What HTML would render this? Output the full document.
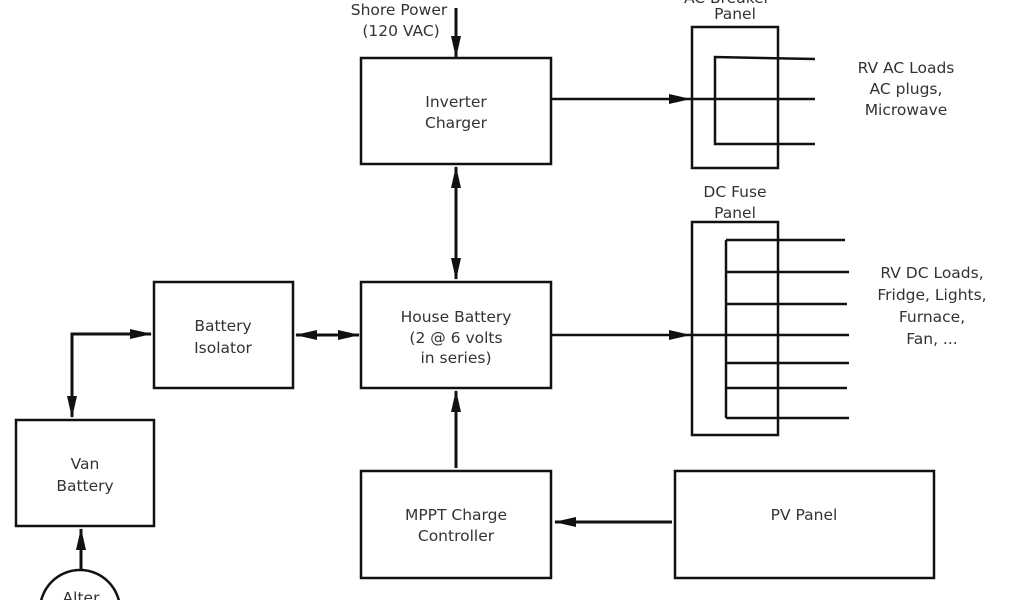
<!DOCTYPE html>
<html><head><style>
html,body{margin:0;padding:0;background:#fff;width:1024px;height:600px;overflow:hidden}
svg{display:block}
text{font-family:"DejaVu Sans","Liberation Sans",sans-serif;font-size:15.5px;fill:#333}
</style></head><body>
<svg width="1024" height="600" viewBox="0 0 1024 600" xmlns="http://www.w3.org/2000/svg">
<defs>
<marker id="as" markerWidth="22" markerHeight="12" refX="21" refY="6" orient="auto-start-reverse" markerUnits="userSpaceOnUse"><path d="M0,1 L22,6 L0,11 z" fill="#111"/></marker>
</defs>
<g fill="none" stroke="#111" stroke-width="2.5">
<rect x="361" y="58" width="190" height="106"/>
<rect x="361" y="282" width="190" height="106"/>
<rect x="361" y="471" width="190" height="107"/>
<rect x="675" y="471" width="259" height="107"/>
<rect x="154" y="282" width="139" height="106"/>
<rect x="16" y="420" width="138" height="106"/>
<path d="M40,610 A40,40 0 0 1 120,610"/>
<rect x="692" y="27" width="86" height="141"/>
<path d="M815,59 L715,57 L715,144 L815,144"/>
<line x1="551" y1="99" x2="815" y2="99"/>
<rect x="692" y="222" width="86" height="213"/>
<line x1="726" y1="240" x2="726" y2="418"/>
<line x1="726" y1="240" x2="845" y2="240"/>
<line x1="726" y1="272" x2="849" y2="272"/>
<line x1="726" y1="304" x2="847" y2="304"/>
<line x1="551" y1="335" x2="849" y2="335"/>
<line x1="726" y1="363" x2="849" y2="363"/>
<line x1="726" y1="388" x2="847" y2="388"/>
<line x1="726" y1="418" x2="849" y2="418"/>
</g>
<g stroke="#111" stroke-width="3" fill="none">
<line x1="456" y1="8" x2="456" y2="57" marker-end="url(#as)"/>
<line x1="456" y1="167" x2="456" y2="279" marker-start="url(#as)" marker-end="url(#as)"/>
<line x1="456" y1="468" x2="456" y2="391" marker-end="url(#as)"/>
<line x1="672" y1="522" x2="555" y2="522" marker-end="url(#as)"/>
<line x1="296" y1="335" x2="359" y2="335" marker-start="url(#as)" marker-end="url(#as)"/>
<path d="M72,417 L72,334 L151,334" marker-start="url(#as)" marker-end="url(#as)"/>
<line x1="81" y1="570" x2="81" y2="529" marker-end="url(#as)"/>
</g>
<g stroke="#111" stroke-width="2">
<line x1="600" y1="99" x2="690" y2="99" marker-end="url(#as)"/>
<line x1="600" y1="335" x2="690" y2="335" marker-end="url(#as)"/>
</g>
<g text-anchor="middle">
<text x="399" y="15">Shore Power</text>
<text x="401" y="36">(120 VAC)</text>
<text x="727" y="3">AC Breaker</text>
<text x="735" y="19">Panel</text>
<text x="456" y="107">Inverter</text>
<text x="456" y="128">Charger</text>
<text x="906" y="73">RV AC Loads</text>
<text x="906" y="94">AC plugs,</text>
<text x="906" y="115">Microwave</text>
<text x="735" y="197">DC Fuse</text>
<text x="735" y="218">Panel</text>
<text x="932" y="278">RV DC Loads,</text>
<text x="932" y="300">Fridge, Lights,</text>
<text x="932" y="322">Furnace,</text>
<text x="932" y="344">Fan, ...</text>
<text x="456" y="322">House Battery</text>
<text x="456" y="343">(2 @ 6 volts</text>
<text x="456" y="363">in series)</text>
<text x="223" y="331">Battery</text>
<text x="223" y="353">Isolator</text>
<text x="85" y="469">Van</text>
<text x="85" y="491">Battery</text>
<text x="456" y="520">MPPT Charge</text>
<text x="456" y="541">Controller</text>
<text x="804" y="520">PV Panel</text>
<text x="81" y="603">Alter</text>
</g>
</svg>
</body></html>
